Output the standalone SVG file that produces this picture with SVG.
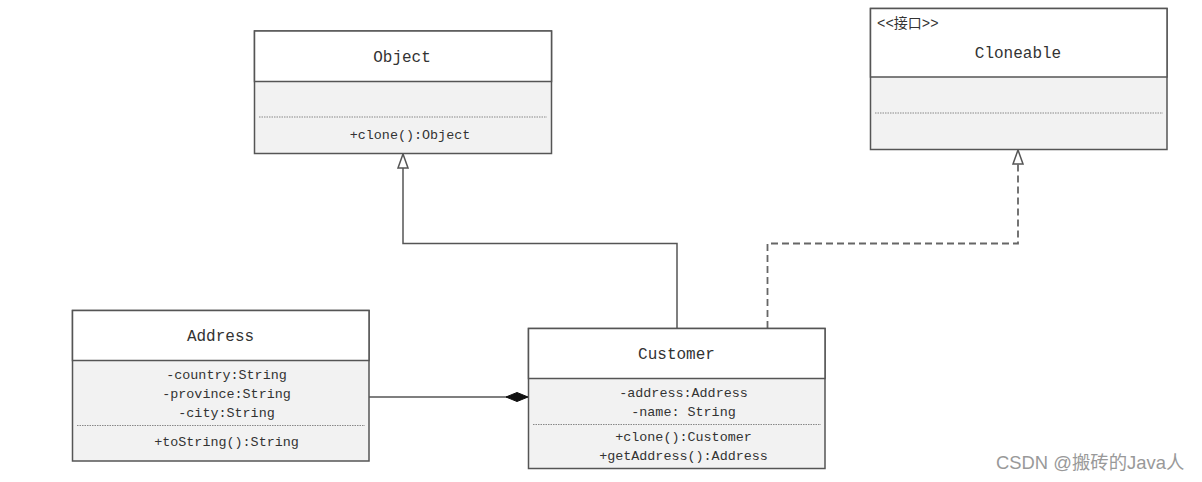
<svg xmlns="http://www.w3.org/2000/svg" width="1202" height="482" viewBox="0 0 1202 482">
<style>
.box{fill:#f2f2f2;stroke:#555;stroke-width:1.5}
.head{fill:#fff;stroke:#555;stroke-width:1.5}
.sep{stroke:#888;stroke-width:1;stroke-dasharray:1.5,1}
.title{font-family:"Liberation Mono","DejaVu Sans Mono",monospace;font-size:16px;fill:#333;text-anchor:middle}
.mem{font-family:"Liberation Mono","DejaVu Sans Mono",monospace;font-size:13.4px;fill:#333;text-anchor:middle}
.stereo{font-family:"Liberation Mono","Noto Sans CJK SC",monospace;font-size:14px;fill:#333}
.line{fill:none;stroke:#555;stroke-width:1.5}
.dash{fill:none;stroke:#666;stroke-width:1.8;stroke-dasharray:7,4}
.wm{font-family:"Liberation Sans","Noto Sans CJK SC",sans-serif;font-size:18.4px;fill:#999}
</style>
<defs>
<marker id="tri" markerWidth="16" markerHeight="14" viewBox="0 0 16 14" refX="15" refY="7" orient="auto" markerUnits="userSpaceOnUse">
<path d="M15,7 L1,2 L1,12 Z" fill="#fff" stroke="#555" stroke-width="1.5"/>
</marker>
<marker id="dia" markerWidth="24" markerHeight="12" viewBox="0 0 24 12" refX="23" refY="6" orient="auto" markerUnits="userSpaceOnUse">
<path d="M1,6 L12,1.5 L23,6 L12,10.5 Z" fill="#111" stroke="#111"/>
</marker>
</defs>
<rect width="1202" height="482" fill="#fff"/>

<g id="connectors">
<path class="line" d="M677,328 V243.5 H403 V154" marker-end="url(#tri)"/>
<path class="dash" d="M767.5,328 V243.5 H1018 V150" marker-end="url(#tri)"/>
<path class="line" d="M369,397 H528" marker-end="url(#dia)"/>
</g>

<g id="Object">
<rect class="box" x="254.5" y="31" width="297" height="122.5"/>
<rect class="head" x="254.5" y="31" width="297" height="50.5"/>
<line class="sep" x1="259" y1="117" x2="547" y2="117"/>
<text class="title" x="402" y="61.5">Object</text>
<text class="mem" x="410" y="139">+clone():Object</text>
</g>

<g id="Cloneable">
<rect class="box" x="870.5" y="8.5" width="296.5" height="141"/>
<rect class="head" x="870.5" y="8.5" width="296.5" height="68.5"/>
<line class="sep" x1="875" y1="113" x2="1163" y2="113"/>
<text class="stereo" x="877" y="28">&lt;&lt;接口&gt;&gt;</text>
<text class="title" x="1018" y="57.5">Cloneable</text>
</g>

<g id="Address">
<rect class="box" x="72.5" y="310.5" width="296.5" height="150.5"/>
<rect class="head" x="72.5" y="310.5" width="296.5" height="50"/>
<line class="sep" x1="77" y1="425.5" x2="365" y2="425.5"/>
<text class="title" x="220.5" y="340.5">Address</text>
<text class="mem" x="226.5" y="379">-country:String</text>
<text class="mem" x="226.5" y="398">-province:String</text>
<text class="mem" x="226.5" y="417">-city:String</text>
<text class="mem" x="226.5" y="446">+toString():String</text>
</g>

<g id="Customer">
<rect class="box" x="528.5" y="328.5" width="296.5" height="140"/>
<rect class="head" x="528.5" y="328.5" width="296.5" height="50"/>
<line class="sep" x1="533" y1="424.5" x2="821" y2="424.5"/>
<text class="title" x="676.5" y="358.5">Customer</text>
<text class="mem" x="683.5" y="397">-address:Address</text>
<text class="mem" x="683.5" y="416">-name: String</text>
<text class="mem" x="683.5" y="441">+clone():Customer</text>
<text class="mem" x="683.5" y="460">+getAddress():Address</text>
</g>

<text class="wm" x="996" y="469">CSDN @搬砖的Java人</text>
</svg>
